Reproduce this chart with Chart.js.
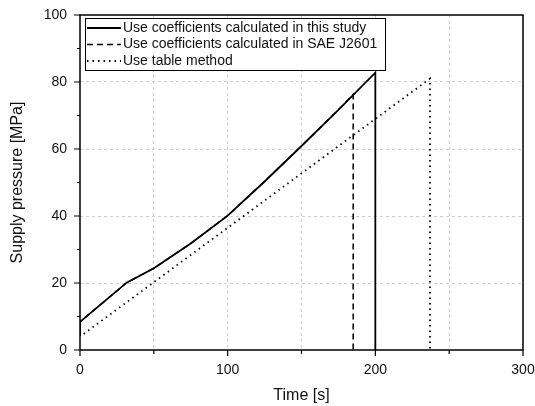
<!DOCTYPE html>
<html lang="en">
<head>
<meta charset="UTF-8">
<title>Supply pressure</title>
<script src="https://cdn.jsdelivr.net/npm/chart.js"></script>
<style>
  body { margin: 0; background: #fff; }
  canvas { display: block; }
</style>
</head>
<body>
<canvas id="grafico" width="535" height="406"></canvas>
<script>
// values
const timeStudy     = [0,   0,   31.6, 50,   75,   100,  125,  150,  175,  200,  200];
const pressureStudy = [4.2, 8.4, 20.1, 24.4, 31.8, 40.1, 50.3, 60.9, 71.7, 82.8, 0];

const timeSae       = [0,   0,   31.6, 50,   75,   100,  125,  150,  175,  185,  185];
const pressureSae   = [4.2, 8.4, 20.1, 24.4, 31.8, 40.1, 50.3, 60.9, 71.7, 76.3, 0];

const timeTable     = [2.5, 237, 237];
const pressureTable = [4.8, 81,  0];

const labelNames = [
  'Use coefficients calculated in this study',
  'Use coefficients calculated in SAE J2601',
  'Use table method'
];

const xTicks = [0, 100, 200, 300];
const yTicks = [0, 20, 40, 60, 80, 100];

const toPoints = (xs, ys) => xs.map((x, i) => ({ x: x, y: ys[i] }));
const FONT = 'Arial, "Liberation Sans", sans-serif';

// frame, outward ticks and legend box
const framePlugin = {
  id: 'frame',
  afterDraw(chart) {
    const ctx = chart.ctx;
    const a = chart.chartArea;
    const xs = chart.scales.x, ys = chart.scales.y;
    ctx.save();
    ctx.strokeStyle = '#000';
    ctx.lineWidth = 1.5;
    ctx.strokeRect(a.left, a.top, a.right - a.left, a.bottom - a.top);

    ctx.lineWidth = 1.2;
    ctx.beginPath();
    for (let v = 0; v <= 300; v += 50) {
      const px = xs.getPixelForValue(v);
      const len = v % 100 === 0 ? 6 : 4;
      ctx.moveTo(px, a.bottom);
      ctx.lineTo(px, a.bottom + len);
    }
    for (let v = 0; v <= 100; v += 10) {
      const py = ys.getPixelForValue(v);
      const len = v % 20 === 0 ? 6 : 3;
      ctx.moveTo(a.left, py);
      ctx.lineTo(a.left - len, py);
    }
    ctx.stroke();

    // legend
    const bx = 85, by = 18, bw = 300, bh = 52;
    ctx.fillStyle = '#fff';
    ctx.fillRect(bx, by, bw, bh);
    ctx.lineWidth = 1;
    ctx.strokeRect(bx + 0.5, by + 0.5, bw, bh);
    ctx.font = '14px ' + FONT;
    ctx.textBaseline = 'middle';
    chart.data.datasets.forEach((ds, i) => {
      const ry = by + 10 + i * 16.5;
      ctx.strokeStyle = '#000';
      ctx.lineWidth = ds.borderWidth;
      ctx.setLineDash(ds.borderDash || []);
      ctx.beginPath();
      ctx.moveTo(bx + 2, ry);
      ctx.lineTo(bx + 36, ry);
      ctx.stroke();
      ctx.setLineDash([]);
      ctx.fillStyle = '#111';
      ctx.fillText(ds.label, bx + 38, ry);
    });
    ctx.restore();
  }
};

const ctx = document.getElementById('grafico').getContext('2d');
new Chart(ctx, {
  type: 'line',
  data: {
    datasets: [
      {
        label: labelNames[0],
        data: toPoints(timeStudy, pressureStudy),
        borderColor: '#000',
        borderWidth: 1.8,
        pointRadius: 0,
        tension: 0,
        order: 0
      },
      {
        label: labelNames[1],
        data: toPoints(timeSae, pressureSae),
        borderColor: '#000',
        borderWidth: 1.5,
        borderDash: [6, 4],
        pointRadius: 0,
        tension: 0,
        order: 1
      },
      {
        label: labelNames[2],
        data: toPoints(timeTable, pressureTable),
        borderColor: '#000',
        borderWidth: 1.8,
        borderDash: [1.5, 4],
        pointRadius: 0,
        tension: 0,
        order: 2
      }
    ]
  },
  options: {
    responsive: false,
    animation: false,
    layout: { padding: { top: 15, right: 12, left: 0, bottom: 0 } },
    plugins: {
      legend: { display: false },
      tooltip: { enabled: false }
    },
    scales: {
      x: {
        type: 'linear',
        min: 0,
        max: 300,
        afterFit: (s) => { s.height = 56; s.paddingLeft = 0; s.paddingRight = 0; },
        afterBuildTicks: (s) => {
          s.ticks = [0, 50, 100, 150, 200, 250, 300].map(v => ({ value: v }));
        },
        ticks: {
          padding: 12,
          color: '#111',
          font: { size: 14, family: FONT },
          maxRotation: 0,
          callback: (v) => xTicks.includes(v) ? String(v) : ''
        },
        grid: {
          drawTicks: false,
          color: (c) => (c.tick && c.tick.value > 0 && c.tick.value < 300) ? '#cfcfcf' : 'rgba(0,0,0,0)',
          lineWidth: 1
        },
        border: { display: false, dash: [3, 3] },
        title: {
          display: true,
          text: 'Time [s]',
          color: '#111',
          font: { size: 16, family: FONT },
          padding: { top: 0, bottom: 1 }
        }
      },
      y: {
        type: 'linear',
        min: 0,
        max: 100,
        afterFit: (s) => { s.width = 80; s.paddingTop = 0; s.paddingBottom = 0; },
        afterBuildTicks: (s) => {
          s.ticks = yTicks.map(v => ({ value: v }));
        },
        ticks: {
          padding: 13,
          color: '#111',
          font: { size: 14, family: FONT }
        },
        grid: {
          drawTicks: false,
          color: (c) => (c.tick && c.tick.value > 0 && c.tick.value < 100) ? '#cfcfcf' : 'rgba(0,0,0,0)',
          lineWidth: 1
        },
        border: { display: false, dash: [3, 3] },
        title: {
          display: true,
          text: 'Supply pressure [MPa]',
          color: '#111',
          font: { size: 16, family: FONT },
          padding: { top: 8, bottom: 0 }
        }
      }
    }
  },
  plugins: [framePlugin]
});
</script>
</body>
</html>
